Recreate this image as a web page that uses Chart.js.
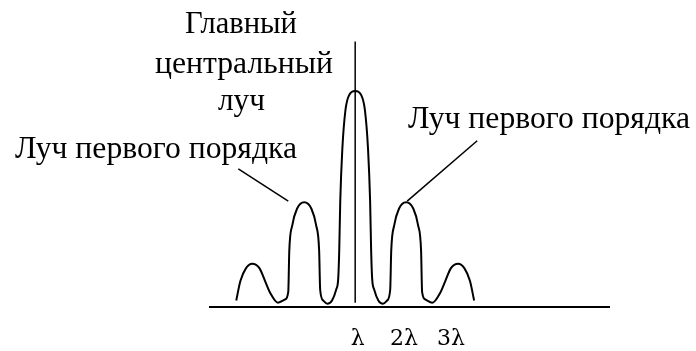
<!DOCTYPE html>
<html>
<head>
<meta charset="utf-8">
<script src="https://cdn.jsdelivr.net/npm/chart.js@4.4.1/dist/chart.umd.min.js"></script>
<style>
  html, body { margin: 0; padding: 0; background: #fff; }
  #wrap { width: 696px; height: 351px; }
</style>
</head>
<body>
<div id="wrap"><canvas id="chart" width="696" height="351"></canvas></div>
<script>
// intensity profile, x in units of first-order spacing, y relative to central peak
const profileX = [-2.31, -2.23, -2.12, -2.00, -1.86, -1.75, -1.65, -1.50, -1.36, -1.30, -1.28, -1.22, -1.13, -0.99,
                  -0.85, -0.76, -0.70, -0.68, -0.62, -0.54, -0.45, -0.37, -0.33, -0.31, -0.29, -0.25, -0.19, -0.12, 0];
const profileY = [0.03, 0.12, 0.18, 0.20, 0.18, 0.12, 0.065, 0.02, 0.035, 0.07, 0.26, 0.38, 0.455, 0.485,
                  0.455, 0.38, 0.26, 0.08, 0.03, 0.015, 0.03, 0.08, 0.13, 0.26, 0.49, 0.73, 0.91, 0.98, 1.0];

// central vertical line
const axisLineX = [0, 0];
const axisLineY = [0.02, 1.23];

// pointer lines to the first-order lobes
const leftPointerX = [-2.27, -1.30];
const leftPointerY = [0.64, 0.49];
const rightPointerX = [2.37, 1.01];
const rightPointerY = [0.77, 0.49];

const tickValues = [0.05, 0.95, 1.86];
const tickLabels = ['λ', '2λ', '3λ'];

const titleLines = ['Главный', 'центральный', 'луч'];
const lobeLabel = 'Луч первого порядка';

// mirror the left half to get the full profile
const profile = [];
profileX.forEach((x, i) => profile.push({ x, y: profileY[i] }));
for (let i = profileX.length - 2; i >= 0; i--) {
    profile.push({ x: -profileX[i], y: profileY[i] });
}

const toPoints = (xs, ys) => xs.map((x, i) => ({ x, y: ys[i] }));

const serif = '"Liberation Serif", "Times New Roman", serif';

// draws the captions, squeezed to the widths seen in the picture
const captions = {
    id: 'captions',
    afterDraw(chart) {
        const ctx = chart.ctx;
        const items = [
            { text: titleLines[0], left: 185, right: 297, base: 33 },
            { text: titleLines[1], left: 155, right: 333, base: 73 },
            { text: titleLines[2], left: 218, right: 265, base: 110 },
            { text: lobeLabel, left: 15, right: 297, base: 158 },
            { text: lobeLabel, left: 408, right: 690, base: 128 },
        ];
        ctx.save();
        ctx.fillStyle = '#000';
        ctx.font = '31px ' + serif;
        ctx.textBaseline = 'alphabetic';
        ctx.textAlign = 'left';
        items.forEach(it => {
            const w = ctx.measureText(it.text).width;
            const sx = (it.right - it.left) / w;
            ctx.save();
            ctx.translate(it.left, it.base);
            ctx.scale(sx, 1);
            ctx.fillText(it.text, 0, 0);
            ctx.restore();
        });
        ctx.restore();
    }
};

const lineStyle = {
    borderColor: '#000',
    borderWidth: 2,
    pointRadius: 0,
    showLine: true,
    fill: false,
};

new Chart(document.getElementById('chart'), {
    type: 'scatter',
    data: {
        datasets: [
            { ...lineStyle, data: profile, cubicInterpolationMode: 'monotone' },
            { ...lineStyle, data: toPoints(axisLineX, axisLineY), borderWidth: 1.5 },
            { ...lineStyle, data: toPoints(leftPointerX, leftPointerY), borderWidth: 1.5 },
            { ...lineStyle, data: toPoints(rightPointerX, rightPointerY), borderWidth: 1.5 },
        ]
    },
    options: {
        responsive: false,
        animation: false,
        layout: { padding: { left: 210, right: 87, top: 36, bottom: 0 } },
        plugins: {
            legend: { display: false },
            tooltip: { enabled: false },
        },
        scales: {
            x: {
                type: 'linear',
                min: -2.82,
                max: 4.93,
                grid: { display: false, drawTicks: false },
                border: { display: true, color: '#000', width: 2 },
                afterBuildTicks: axis => { axis.ticks = tickValues.map(v => ({ value: v })); },
                afterFit: axis => { axis.height = 44; },
                ticks: {
                    color: '#000',
                    padding: 19,
                    maxRotation: 0,
                    autoSkip: false,
                    font: { family: '"DejaVu Serif", serif', size: 22 },
                    callback: (v, i) => tickLabels[i],
                }
            },
            y: {
                display: false,
                min: 0,
                max: 1.255,
            }
        }
    },
    plugins: [captions]
});
</script>
</body>
</html>
